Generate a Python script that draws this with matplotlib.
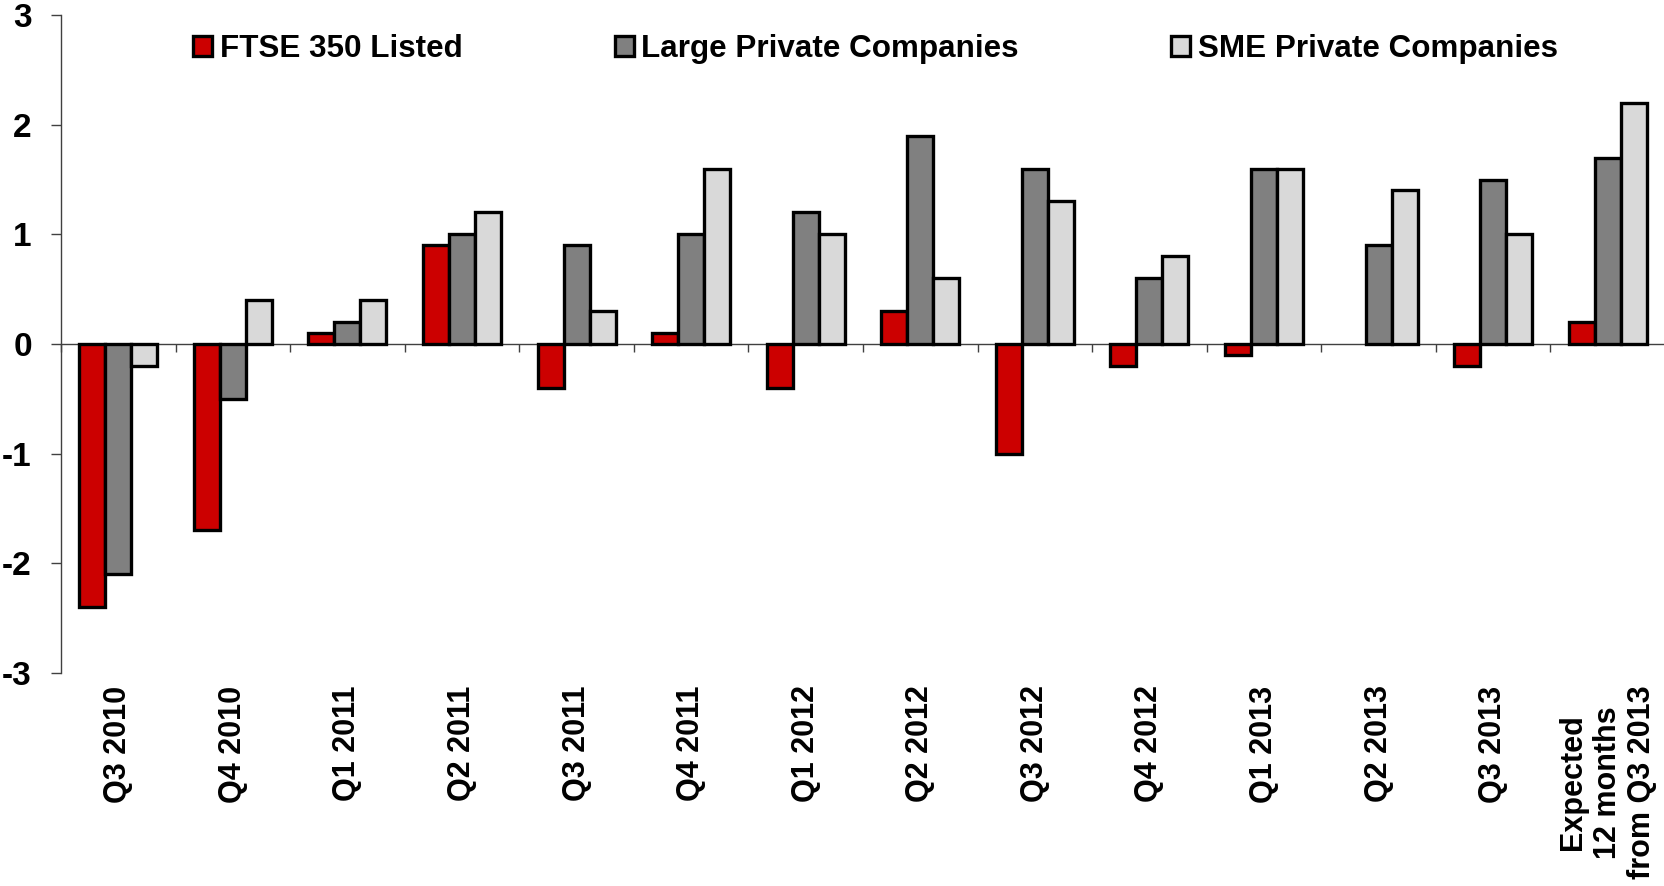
import numpy as np
import matplotlib
matplotlib.use("Agg")
import matplotlib.pyplot as plt

categories = ["Q3 2010", "Q4 2010", "Q1 2011", "Q2 2011", "Q3 2011", "Q4 2011",
              "Q1 2012", "Q2 2012", "Q3 2012", "Q4 2012", "Q1 2013", "Q2 2013",
              "Q3 2013", "Expected\n12 months\nfrom Q3 2013"]
ftse350 = [-2.4, -1.7, 0.1, 0.9, -0.4, 0.1, -0.4, 0.3, -1.0, -0.2, -0.1, np.nan, -0.2, 0.2]
large_private = [-2.1, -0.5, 0.2, 1.0, 0.9, 1.0, 1.2, 1.9, 1.6, 0.6, 1.6, 0.9, 1.5, 1.7]
sme_private = [-0.2, 0.4, 0.4, 1.2, 0.3, 1.6, 1.0, 0.6, 1.3, 0.8, 1.6, 1.4, 1.0, 2.2]
series_names = ["FTSE 350 Listed", "Large Private Companies", "SME Private Companies"]
y_ticks = [-3, -2, -1, 0, 1, 2, 3]

colors = ["#CC0000", "#808080", "#D9D9D9"]

plt.rcParams['font.family'] = ['Liberation Sans', 'DejaVu Sans']
plt.rcParams['font.weight'] = 'bold'

fig = plt.figure(figsize=(16.65, 8.86), dpi=100)
ax = fig.add_axes([61 / 1665, 1 - 673 / 886, 1 - 61 / 1665, (673 - 15) / 886])

x = np.arange(len(categories))
w = 0.227
for i, (vals, name, c) in enumerate(zip([ftse350, large_private, sme_private], series_names, colors)):
    ax.bar(x + (i - 1) * w, vals, width=w, color=c, edgecolor='black', linewidth=2.4,
           label=name, zorder=3)

ax.set_xlim(-0.5, len(categories) - 0.5)
ax.set_ylim(-3, 3)
ax.set_yticks(y_ticks)
ax.set_yticklabels([str(v) for v in y_ticks], fontsize=24, fontweight='bold')
ax.tick_params(axis='y', direction='out', length=7, width=1, color='#404040', pad=14)

for s in ['top', 'right']:
    ax.spines[s].set_visible(False)
ax.spines['left'].set_color('#404040')
ax.spines['left'].set_linewidth(1)
ax.spines['bottom'].set_position(('data', 0))
ax.spines['bottom'].set_color('#404040')
ax.spines['bottom'].set_linewidth(1)
ax.spines['bottom'].set_zorder(2)

ax.set_xticks(np.arange(len(categories)) - 0.5)
ax.set_xticklabels([])
ax.tick_params(axis='x', direction='out', length=6, width=1, color='#404040')

sec = ax.secondary_xaxis('bottom')
sec.set_xticks(x)
sec.set_xticklabels(categories, rotation=90, fontsize=22, fontweight='bold', va='top', ha='center')
for lab in sec.get_xticklabels():
    lab.set_multialignment('center')
sec.tick_params(axis='x', length=0, pad=9)
sec.spines['bottom'].set_visible(False)

fig.legend(loc='center left', bbox_to_anchor=(193 / 1665, 1 - 49 / 886), ncol=3,
           frameon=False, handlelength=0.6, handleheight=0.6,
           handletextpad=0.25, columnspacing=4.85, borderpad=0, borderaxespad=0,
           prop={'weight': 'bold', 'size': 22.6})

fig.savefig("out.png", dpi=100)
